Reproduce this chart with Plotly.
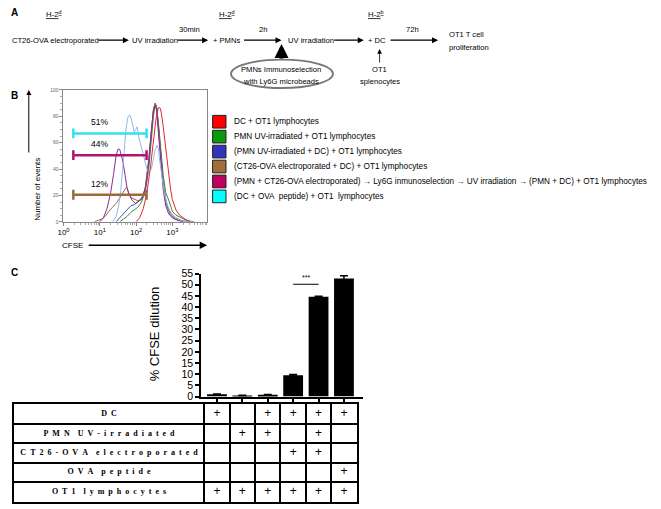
import plotly.graph_objects as go

W, H = 661, 509
def px(x):
    return x / W
def py(y):
    return 1 - y / H

FONT = "Arial, Liberation Sans, sans-serif"
SERIF = "Times New Roman, Liberation Serif, serif"

# ---------------- Panel B: CFSE histograms (log10 CFSE, % of max) ----------------
red_lx = [2.0, 2.1, 2.2, 2.3, 2.4, 2.48, 2.55, 2.6, 2.64, 2.67, 2.7, 2.75, 2.8, 2.85, 2.9, 2.95, 3.0, 3.1, 3.2, 3.35, 3.5]
red_y = [0, 3, 10, 22, 42, 62, 78, 85, 87, 86, 82, 72, 60, 47, 35, 25, 17, 9, 5, 2, 0]

green_lx = [1.55, 1.65, 1.75, 1.85, 1.95, 2.05, 2.15, 2.25, 2.35, 2.42, 2.48, 2.53, 2.57, 2.62, 2.68, 2.75, 2.82, 2.87, 2.92, 3.0, 3.1, 3.25, 3.4, 3.6]
green_y = [0, 2, 4, 7, 9, 11, 15, 22, 40, 62, 80, 89, 86, 74, 55, 35, 22, 19, 15, 8, 5, 3, 1, 0]

blue_lx = [1.45, 1.55, 1.65, 1.75, 1.85, 1.95, 2.05, 2.15, 2.25, 2.35, 2.42, 2.48, 2.53, 2.57, 2.62, 2.68, 2.75, 2.82, 2.9, 3.0, 3.1, 3.25, 3.45]
blue_y = [0, 3, 6, 9, 12, 13, 15, 17, 25, 45, 68, 85, 90, 87, 72, 50, 30, 16, 9, 5, 3, 1, 0]

brown_lx = [0.85, 0.95, 1.05, 1.15, 1.25, 1.35, 1.45, 1.55, 1.63, 1.7, 1.75, 1.8, 1.88, 1.95, 2.05, 2.15, 2.25, 2.35, 2.42, 2.48, 2.53, 2.57, 2.62, 2.68, 2.75, 2.85, 2.95, 3.1, 3.3]
brown_y = [0, 1, 2, 4, 8, 11, 14, 18, 22, 25, 26, 21, 18, 17, 16, 17, 25, 48, 70, 86, 90, 86, 70, 48, 28, 12, 5, 2, 0]

purple_lx = [1.0, 1.1, 1.2, 1.3, 1.38, 1.45, 1.5, 1.55, 1.6, 1.65, 1.7, 1.75, 1.82, 1.9, 1.98, 2.05, 2.12, 2.2, 2.28, 2.35, 2.42, 2.48, 2.53, 2.57, 2.62, 2.68, 2.75, 2.82, 2.9, 3.0, 3.15, 3.3]
purple_y = [0, 3, 10, 22, 36, 50, 55, 55, 50, 44, 35, 26, 20, 16, 14, 15, 17, 20, 28, 45, 68, 84, 88, 84, 66, 44, 24, 12, 6, 3, 1, 0]

lblue_lx = [1.35, 1.45, 1.52, 1.58, 1.63, 1.68, 1.73, 1.78, 1.83, 1.87, 1.91, 1.95, 1.99, 2.03, 2.07, 2.12, 2.18, 2.24, 2.3, 2.36, 2.42, 2.48, 2.53, 2.58, 2.62, 2.66, 2.72, 2.78, 2.85, 2.92, 3.0, 3.1, 3.25, 3.45]
lblue_y = [0, 4, 12, 24, 40, 58, 72, 80, 81, 78, 72, 68, 70, 72, 65, 60, 54, 46, 40, 38, 40, 48, 55, 58, 55, 45, 32, 22, 14, 9, 5, 3, 1, 0]

curve_colors = ["#3a8f3a", "#3a4fc4", "#9b6a3a", "#8a2a9a", "#8fb8ea", "#e5262a"]
curves = [
    (green_lx, green_y),
    (blue_lx, blue_y),
    (brown_lx, brown_y),
    (purple_lx, purple_y),
    (lblue_lx, lblue_y),
    (red_lx, red_y),
]

# gates (marker bars)
gate_lo, gate_hi = 1.87, 195
gate_labels = ["51%", "44%", "12%"]
gate_levels = [67, 50.5, 20.5]
gate_label_y = [76, 59, 29]
gate_colors = ["#33e0ee", "#b0146e", "#9b6a3a"]

legend_labels = [
    "DC + OT1 lymphocytes",
    "PMN UV-irradiated + OT1 lymphocytes",
    "(PMN UV-irradiated + DC) + OT1 lymphocytes",
    "(CT26-OVA electroporated + DC) + OT1 lymphocytes",
    "(PMN + CT26-OVA electroporated) \u2192 Ly6G inmunoselection \u2192 UV irradiation \u2192 (PMN + DC) + OT1 lymphocytes",
    "(DC + OVA  peptide) + OT1  lymphocytes",
]
legend_colors = ["#ff0000", "#0a990a", "#3333bb", "#a0703c", "#c00060", "#00ffff"]

# ---------------- Panel C: bar chart ----------------
bar_pos = [0, 1, 2, 3, 4, 5]
bar_vals = [1.0, 0.5, 0.8, 9.5, 44.6, 52.8]
bar_err = [0.15, 0.1, 0.15, 0.4, 0.3, 1.2]

table_rows = ["DC", "PMN UV-irradiated", "CT26-OVA electroporated", "OVA peptide", "OT1 lymphocytes"]
table_plus = [
    [1, 0, 1, 1, 1, 1],
    [0, 1, 1, 0, 1, 0],
    [0, 0, 0, 1, 1, 0],
    [0, 0, 0, 0, 0, 1],
    [1, 1, 1, 1, 1, 1],
]

fig = go.Figure()

for (lx, yv), col in zip(curves, curve_colors):
    fig.add_trace(go.Scatter(
        x=[10 ** v for v in lx], y=yv, mode="lines",
        line=dict(color=col, width=1), xaxis="x", yaxis="y",
        showlegend=False, hoverinfo="skip"))

for lev, col in zip(gate_levels, gate_colors):
    fig.add_trace(go.Scatter(
        x=[gate_lo, gate_hi], y=[lev, lev], mode="lines+markers",
        line=dict(color=col, width=2.5),
        marker=dict(symbol="line-ns", size=7, line=dict(color=col, width=2.5)),
        xaxis="x", yaxis="y", showlegend=False, hoverinfo="skip"))

fig.add_trace(go.Bar(
    x=bar_pos, y=bar_vals, width=0.78,
    marker=dict(color="black", line=dict(width=0)),
    error_y=dict(type="data", array=bar_err, color="black", thickness=1.5, width=4),
    xaxis="x2", yaxis="y2", showlegend=False, hoverinfo="skip"))

# Table drawn on its own axes (grid lines = cell borders)
def spaced(s):
    words = s.split(" ")
    return "\u2002\u2002".join("\u2002".join(list(w)) for w in words)

label_col_x = -4.25
fig.add_trace(go.Scatter(
    x=[label_col_x] * len(table_rows), y=list(range(len(table_rows))),
    text=["<b>" + spaced(r) + "</b>" for r in table_rows], mode="text",
    textposition="middle center", textfont=dict(family=SERIF, size=8, color="black"),
    xaxis="x3", yaxis="y3", showlegend=False, hoverinfo="skip"))
plus_x, plus_y = [], []
for i, row in enumerate(table_plus):
    for j, v in enumerate(row):
        if v:
            plus_x.append(bar_pos[j])
            plus_y.append(i)
fig.add_trace(go.Scatter(
    x=plus_x, y=plus_y, text=["+"] * len(plus_x), mode="text",
    textposition="middle center", textfont=dict(family=FONT, size=12, color="black"),
    xaxis="x3", yaxis="y3", showlegend=False, hoverinfo="skip"))

ann = []
shapes = []

def text(x, y, t, size=7.6, xanchor="center", yanchor="middle", bold=False, **kw):
    ann.append(dict(x=px(x), y=py(y), xref="paper", yref="paper", text=("<b>%s</b>" % t) if bold else t,
                    showarrow=False, xanchor=xanchor, yanchor=yanchor,
                    font=dict(family=FONT, size=size, color="black"), **kw))

def arrow(x0, y0, x1, y1, width=1.2, head=2, size=1.0):
    ann.append(dict(x=px(x1), y=py(y1), ax=x0 - x1, ay=y0 - y1, xref="paper", yref="paper",
                    axref="pixel", ayref="pixel", text="", showarrow=True,
                    arrowhead=head, arrowsize=size, arrowwidth=width, arrowcolor="black"))

# Panel labels
text(3, 7, "A", size=10, xanchor="left", bold=True)
text(3, 92, "B", size=10, xanchor="left", bold=True)
text(3, 273, "C", size=10, xanchor="left", bold=True)

# Panel A flow diagram
for hx, sup in [(48, "d"), (223, "d"), (373, "b")]:
    text(hx, 8, "<u>H-2<sup>%s</sup></u>" % sup, size=7.8)
row_y = 35
text(4, row_y, "CT26-OVA electroporated", xanchor="left")
arrow(92, row_y, 124, row_y)
text(125, row_y, "UV irradiation", xanchor="left")
arrow(172, row_y, 204, row_y)
text(185, 24, "30min")
text(207, row_y, "+ PMNs", xanchor="left")
arrow(239, row_y, 278, row_y)
text(259, 24, "2h")
text(283, row_y, "UV irradiation", xanchor="left")
arrow(330, row_y, 361, row_y)
text(363, row_y, "+ DC", xanchor="left")
arrow(387, row_y, 436, row_y)
text(410, 24, "72h")
text(445, 29, "OT1 T cell", xanchor="left")
text(445, 42, "proliferation", xanchor="left")
arrow(278, 55, 278, 39, width=4, head=2, size=0.7)
shapes.append(dict(type="circle", xref="paper", yref="paper", x0=px(227), x1=px(330),
                   y0=py(84), y1=py(55), line=dict(color="#777777", width=1.8)))
text(278, 65, "PMNs Immunoselection")
text(278, 77, "with Ly6G microbeads")
arrow(377, 59, 377, 44, width=0.8, head=2, size=1.2)
text(377, 65, "OT1")
text(377, 77, "splenocytes")

# Panel B extras
ann.append(dict(x=px(25), y=py(188), xref="paper", yref="paper", text="Number of events",
                textangle=-90, showarrow=False, font=dict(family=FONT, size=8, color="black")))
arrow(23, 150, 23, 86, width=1, head=2, size=1)
text(54, 245, "CFSE", size=8, xanchor="left")
arrow(83, 245, 203, 245, width=1.5, head=2, size=1)
for lab, ly in zip(gate_labels, gate_label_y):
    ann.append(dict(x=1.0, y=ly, xref="x", yref="y", text=lab, showarrow=False,
                    font=dict(family=FONT, size=8.5, color="black")))

# Legend
for i, (lab, col) in enumerate(zip(legend_labels, legend_colors)):
    top = 112 + i * 15.3
    shapes.append(dict(type="rect", xref="paper", yref="paper", x0=px(208.5), x1=px(222),
                       y0=py(top + 13), y1=py(top), fillcolor=col,
                       line=dict(color="#222222", width=1)))
    text(228, top + 6.5, lab, size=8.2, xanchor="left")

# Panel C extras
ann.append(dict(x=px(140), y=py(336), xref="paper", yref="paper", text="% CFSE dilution",
                textangle=-90, showarrow=False, font=dict(family=FONT, size=13, color="black")))
shapes.append(dict(type="line", xref="x2", yref="y2", x0=3, x1=4, y0=50.2, y1=50.2,
                   line=dict(color="black", width=1)))
ann.append(dict(x=3.5, y=50.8, xref="x2", yref="y2", text="***", showarrow=False,
                yanchor="bottom", font=dict(family=FONT, size=7, color="black")))

# bar-axis scale: index 0 at px 212.9, 25.63 px per group
X0, SC = 212.9, 25.63
fig.update_layout(
    width=W, height=H, margin=dict(l=0, r=0, t=0, b=0),
    paper_bgcolor="white", plot_bgcolor="white",
    annotations=ann, shapes=shapes, showlegend=False,
    xaxis=dict(domain=[px(58), px(203)], type="log", range=[0, 3.96], anchor="y",
               showline=True, linecolor="#888888", linewidth=1, mirror=True,
               tickvals=[1, 10, 100, 1000],
               ticktext=["10<sup>0</sup>", "10<sup>1</sup>", "10<sup>2</sup>", "10<sup>3</sup>"],
               ticks="outside", ticklen=3, tickcolor="#888888",
               minor=dict(ticks="outside", ticklen=2, tickcolor="#aaaaaa", dtick="D1", showgrid=False),
               tickfont=dict(family=FONT, size=8, color="black"), showgrid=False, zeroline=False),
    yaxis=dict(domain=[py(221), py(86)], range=[0, 100], anchor="x",
               showline=True, linecolor="#888888", linewidth=1, mirror=True,
               tickvals=[0, 20, 40, 60, 80, 100], ticks="outside", ticklen=3, tickcolor="#888888",
               minor=dict(ticks="outside", ticklen=2, tickcolor="#aaaaaa", dtick=5),
               tickfont=dict(family=FONT, size=5, color="#666666"), showgrid=False, zeroline=False),
    xaxis2=dict(domain=[px(197), px(360)], range=[(197 - X0) / SC, (360 - X0) / SC], anchor="y2",
                showline=True, linecolor="black", linewidth=2, showticklabels=False,
                tickvals=bar_pos, ticks="outside", ticklen=4, tickwidth=1.5, tickcolor="black",
                showgrid=False, zeroline=False),
    yaxis2=dict(domain=[py(400), py(274)], range=[0, 55], anchor="x2",
                showline=True, linecolor="black", linewidth=2,
                tickvals=list(range(0, 56, 5)), ticks="outside", ticklen=4, tickwidth=1.5,
                tickcolor="black", tickfont=dict(family=FONT, size=10.5, color="black"),
                showgrid=False, zeroline=False),
    xaxis3=dict(domain=[px(8), px(X0 + 5.5 * SC)], range=[(8 - X0) / SC, 5.5], anchor="y3",
                showline=True, mirror=True, linecolor="black", linewidth=2,
                tickvals=[-0.5, 0.5, 1.5, 2.5, 3.5, 4.5], showticklabels=False, ticks="",
                showgrid=True, gridcolor="black", gridwidth=2, zeroline=False),
    yaxis3=dict(domain=[py(507.5), py(408)], range=[4.5, -0.5], anchor="x3",
                showline=True, mirror=True, linecolor="black", linewidth=2,
                tickvals=[0.5, 1.5, 2.5, 3.5], showticklabels=False, ticks="",
                showgrid=True, gridcolor="black", gridwidth=2, zeroline=False),
)

fig.write_html("out.html", config={"displayModeBar": False},
               post_script="document.body.style.margin='0';document.body.style.overflow='hidden';")
